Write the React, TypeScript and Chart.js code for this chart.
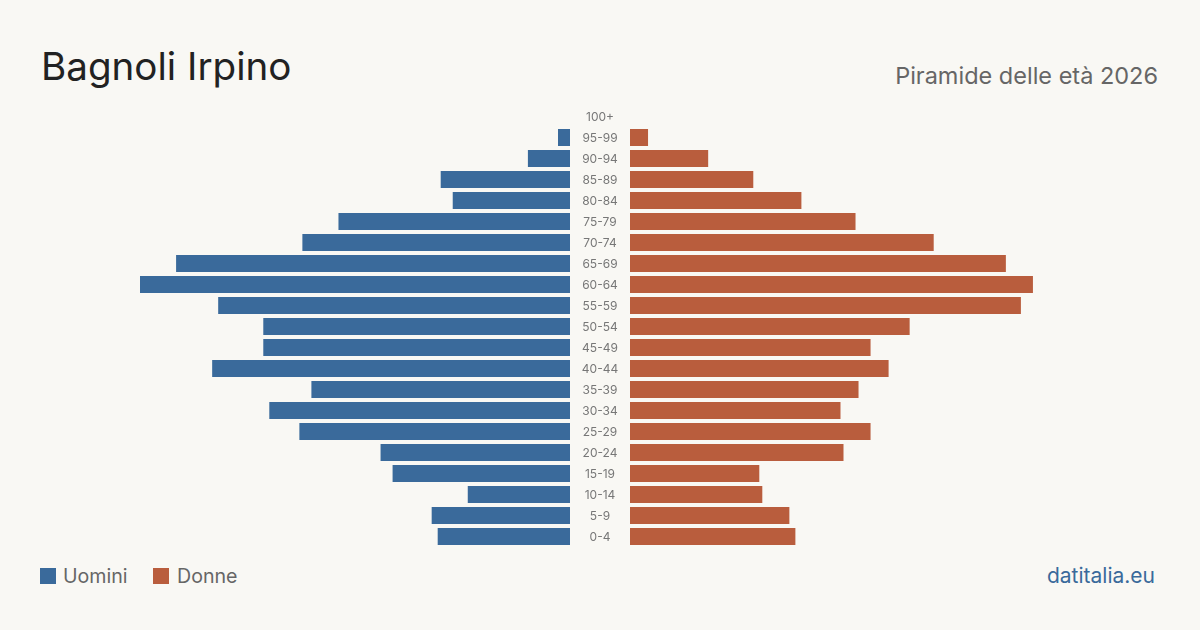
import React, { useEffect, useRef } from "react";
import { Chart, registerables } from "chart.js";

Chart.register(...registerables);

const ageGroups = [
  "100+", "95-99", "90-94", "85-89", "80-84", "75-79", "70-74", "65-69",
  "60-64", "55-59", "50-54", "45-49", "40-44", "35-39", "30-34", "25-29",
  "20-24", "15-19", "10-14", "5-9", "0-4",
];
const men = [0, 4, 14, 43, 39, 77, 89, 131, 143, 117, 102, 102, 119, 86, 100, 90, 63, 59, 34, 46, 44];
const women = [0, 6, 26, 41, 57, 75, 101, 125, 134, 130, 93, 80, 86, 76, 70, 80, 71, 43, 44, 53, 55];

const legendItems = ["Uomini", "Donne"];
const titleText = "Bagnoli Irpino";
const subtitleText = "Piramide delle età 2026";
const sourceText = "datitalia.eu";

const BLUE = "#3a6a9b";
const ORANGE = "#b95d3d";
const BG = "#f9f8f4";
const FONT = "Inter, 'Noto Sans', sans-serif";

export default function App() {
  const leftRef = useRef<HTMLCanvasElement | null>(null);
  const rightRef = useRef<HTMLCanvasElement | null>(null);

  useEffect(() => {
    const maxVal = Math.max(...men, ...women);
    const labelFontSize = 12;
    const mctx = document.createElement("canvas").getContext("2d")!;
    mctx.font = `${labelFontSize}px ${FONT}`;
    const widest = Math.max(...ageGroups.map((a) => mctx.measureText(a).width));
    const pad = 30 - widest / 2;

    const common: any = {
      indexAxis: "y",
      responsive: true,
      maintainAspectRatio: false,
      animation: false,
      layout: { padding: 0, autoPadding: false },
      plugins: { legend: { display: false }, tooltip: { enabled: false }, title: { display: false } },
    };

    const left = new Chart(leftRef.current!, {
      type: "bar",
      data: {
        labels: ageGroups,
        datasets: [
          {
            label: legendItems[0],
            data: men,
            backgroundColor: BLUE,
            borderWidth: 0,
            barPercentage: 0.81,
            categoryPercentage: 1,
          },
        ],
      },
      options: {
        ...common,
        scales: {
          x: { display: false, min: 0, max: maxVal, reverse: true },
          y: { display: false },
        },
      },
    });

    const right = new Chart(rightRef.current!, {
      type: "bar",
      data: {
        labels: ageGroups,
        datasets: [
          {
            label: legendItems[1],
            data: women,
            backgroundColor: ORANGE,
            borderWidth: 0,
            barPercentage: 0.81,
            categoryPercentage: 1,
          },
        ],
      },
      options: {
        ...common,
        scales: {
          x: { display: false, min: 0, max: maxVal },
          y: {
            position: "left",
            grid: { display: false, drawTicks: false },
            border: { display: false },
            ticks: {
              crossAlign: "center",
              padding: pad,
              labelOffset: 1,
              color: "#777",
              font: { family: FONT, size: labelFontSize },
              autoSkip: false,
            },
            afterFit: (scale: any) => {
              scale.width = 60;
              scale.paddingTop = 0;
              scale.paddingBottom = 0;
            },
          },
        },
      },
    });

    return () => {
      left.destroy();
      right.destroy();
    };
  }, []);

  const abs = (s: React.CSSProperties): React.CSSProperties => ({ position: "absolute", ...s });

  return (
    <div
      style={{
        position: "fixed",
        left: 0,
        top: 0,
        width: 1200,
        height: 630,
        background: BG,
        fontFamily: FONT,
        overflow: "hidden",
      }}
    >
      <div style={abs({ left: 41, top: 46.5, fontSize: 38.6, lineHeight: "38.6px", color: "#222", whiteSpace: "nowrap" })}>
        {titleText}
      </div>
      <div
        style={abs({ right: 42, top: 64, fontSize: 23.5, lineHeight: "23.5px", color: "#666", whiteSpace: "nowrap" })}
      >
        {subtitleText}
      </div>

      <div style={abs({ left: 140, top: 106, width: 430, height: 441 })}>
        <canvas ref={leftRef} />
      </div>
      <div style={abs({ left: 570, top: 106, width: 490, height: 441 })}>
        <canvas ref={rightRef} />
      </div>

      <div style={abs({ left: 40, top: 568, width: 16, height: 16, background: BLUE })} />
      <div style={abs({ left: 63, top: 566.5, fontSize: 19.6, lineHeight: "19.6px", color: "#666" })}>{legendItems[0]}</div>
      <div style={abs({ left: 153, top: 568, width: 16, height: 16, background: ORANGE })} />
      <div style={abs({ left: 177, top: 566.5, fontSize: 19.6, lineHeight: "19.6px", color: "#666" })}>{legendItems[1]}</div>

      <div style={abs({ right: 45, top: 564.5, fontSize: 21, lineHeight: "21px", color: BLUE, whiteSpace: "nowrap" })}>
        {sourceText}
      </div>
    </div>
  );
}
